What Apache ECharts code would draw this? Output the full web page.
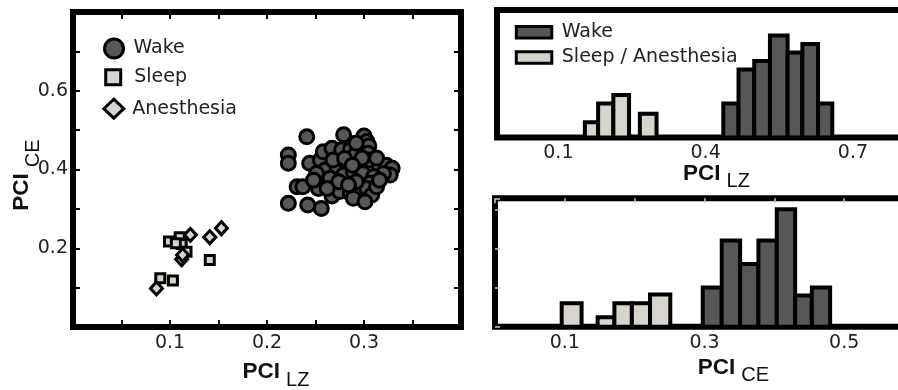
<!DOCTYPE html>
<html>
<head>
<meta charset="utf-8">
<script src="https://cdn.jsdelivr.net/npm/echarts@6/dist/echarts.min.js"></script>
<style>
  html, body { margin: 0; padding: 0; background: #fff; }
  #chart { width: 898px; height: 390px; }
</style>
</head>
<body>
<div id="chart"></div>
<script>
// PCI_LZ (x) and PCI_CE (y) for each recording
const wakeLZ = [0.241, 0.279, 0.300, 0.303, 0.305, 0.222, 0.222, 0.244, 0.255, 0.258,
                0.267, 0.277, 0.286, 0.292, 0.304, 0.260, 0.272, 0.282, 0.296, 0.306,
                0.316, 0.323, 0.329, 0.327, 0.320, 0.251, 0.265, 0.279, 0.289, 0.299,
                0.310, 0.306, 0.231, 0.237, 0.253, 0.267, 0.275, 0.286, 0.296, 0.303,
                0.308, 0.222, 0.242, 0.256, 0.289, 0.301, 0.274, 0.292, 0.313, 0.284,
                0.268, 0.292, 0.280, 0.262, 0.316, 0.298, 0.248, 0.288, 0.313];
const wakeCE = [0.483, 0.488, 0.485, 0.471, 0.460, 0.437, 0.416, 0.416, 0.424, 0.445,
                0.454, 0.450, 0.450, 0.441, 0.441, 0.399, 0.407, 0.416, 0.416, 0.424,
                0.407, 0.411, 0.403, 0.386, 0.390, 0.390, 0.378, 0.386, 0.394, 0.390,
                0.382, 0.365, 0.356, 0.356, 0.352, 0.333, 0.344, 0.340, 0.344, 0.352,
                0.335, 0.314, 0.310, 0.301, 0.327, 0.318, 0.369, 0.369, 0.356, 0.361,
                0.424, 0.467, 0.428, 0.352, 0.373, 0.429, 0.373, 0.411, 0.429];
const sleepLZ = [0.099, 0.110, 0.112, 0.106, 0.117, 0.141, 0.090, 0.103];
const sleepCE = [0.217, 0.228, 0.211, 0.213, 0.191, 0.170, 0.124, 0.118];
const anesLZ = [0.121, 0.112, 0.113, 0.141, 0.153, 0.086];
const anesCE = [0.234, 0.172, 0.183, 0.228, 0.251, 0.098];

// Histogram of PCI_LZ: bin edges and counts
const lzWakeLo = [0.436, 0.467, 0.499, 0.531, 0.567, 0.597, 0.629];
const lzWakeHi = [0.467, 0.499, 0.531, 0.567, 0.597, 0.629, 0.658];
const lzWakeCount = [4, 8, 9, 12, 10, 11, 4];
const lzSleepLo = [0.154, 0.181, 0.212, 0.266];
const lzSleepHi = [0.181, 0.212, 0.244, 0.300];
const lzSleepCount = [1.8, 4, 5, 2.8];

// Histogram of PCI_CE: bin edges and counts
const ceWakeLo = [0.2975, 0.3247, 0.3510, 0.3772, 0.4035, 0.4298, 0.4537];
const ceWakeHi = [0.3247, 0.3510, 0.3772, 0.4035, 0.4298, 0.4537, 0.4799];
const ceWakeCount = [5, 11, 8, 11, 15, 4, 5];
const ceSleepLo = [0.0955, 0.147, 0.171, 0.196, 0.222];
const ceSleepHi = [0.124, 0.171, 0.196, 0.222, 0.251];
const ceSleepCount = [3, 1.2, 3, 3, 4.1];

// Tick labels
const scatterXLabels = [0.1, 0.2, 0.3];
const scatterYLabels = [0.2, 0.4, 0.6];
const lzLabels = [0.1, 0.4, 0.7];
const ceLabels = [0.1, 0.3, 0.5];

const TITLE_FONT = "'Liberation Sans', Arial, Helvetica, sans-serif";
const FONT = "'DejaVu Sans', Verdana, sans-serif";
const DARK = '#575757';
const LIGHT = '#d7d4cb';

const zip = (a, b) => a.map((v, i) => [v, b[i]]);
const bins = (lo, hi, n) => lo.map((v, i) => [v, hi[i], n[i]]);

function renderBin(params, api) {
  const p0 = api.coord([api.value(0), 0]);
  const p1 = api.coord([api.value(1), api.value(2)]);
  return {
    type: 'rect',
    shape: { x: p0[0], y: p1[1], width: p1[0] - p0[0], height: p0[1] - p1[1] },
    style: { fill: api.visual('color'), stroke: '#000', lineWidth: 4 }
  };
}

// Axis title "PCI" with a subscript; lead/trail slide it along the axis
function axisTitle(main, sub, gap, lead, trail, lineH) {
  return {
    name: '{b|' + main + '}{s|' + sub + '}',
    nameLocation: 'middle',
    nameGap: gap,
    nameMoveOverlap: false,
    nameTextStyle: {
      rich: {
        b: { fontSize: 22.5, fontWeight: 'bold', fontFamily: TITLE_FONT, color: '#111',
             lineHeight: lineH, padding: [0, 0, 0, lead] },
        s: { fontSize: 20, fontFamily: TITLE_FONT, color: '#111', lineHeight: 20,
             verticalAlign: 'bottom', padding: [0, trail, 0, 6] }
      }
    }
  };
}

const tickLabelStyle = { fontSize: 19, fontFamily: FONT, color: '#222' };
const blackTicks = { show: true, inside: true, length: 7, lineStyle: { color: '#000', width: 2 } };
const greyTicks = { show: true, inside: true, length: 5, lineStyle: { color: '#c8c8c8', width: 1.5 } };
// Frame edges come from the grid border; axes keep to their own side
const noLine = { show: false, onZero: false };
const noSplit = { show: false };

const chart = echarts.init(document.getElementById('chart'), null, { renderer: 'canvas' });

const gridBase = { show: true, borderColor: '#000', borderWidth: 6, backgroundColor: '#fff',
                   containLabel: false, outerBoundsMode: 'none' };

function legendText(pad, lineH, size) {
  return Object.assign({}, tickLabelStyle, { fontSize: size, padding: [0, 0, 0, pad], lineHeight: lineH });
}

const option = {
  animation: false,
  backgroundColor: '#fff',
  grid: [
    Object.assign({ left: 73, top: 12, width: 388, height: 315 }, gridBase),
    Object.assign({ left: 497, top: 10, width: 405, height: 127.5 }, gridBase),
    Object.assign({ left: 495, top: 198.3, width: 419, height: 128.4 }, gridBase)
  ],
  xAxis: [
    Object.assign(axisTitle('PCI', 'LZ', 27, 18, 0, 36), {
      gridIndex: 0, type: 'value', position: 'bottom', min: 0, max: 0.4, interval: 0.05,
      axisLine: noLine, splitLine: noSplit, axisTick: blackTicks,
      axisLabel: Object.assign({ margin: 7, customValues: scatterXLabels }, tickLabelStyle)
    }),
    { gridIndex: 0, type: 'value', position: 'top', min: 0, max: 0.4, interval: 0.05,
      axisLine: noLine, splitLine: noSplit, axisTick: blackTicks, axisLabel: { show: false } },
    Object.assign(axisTitle('PCI', 'LZ', 18, 34, 0, 36), {
      gridIndex: 1, type: 'value', position: 'bottom', min: -0.025, max: 0.8,
      axisLine: noLine, splitLine: noSplit, axisTick: { show: false },
      axisLabel: Object.assign({ margin: 6, customValues: lzLabels }, tickLabelStyle)
    }),
    Object.assign(axisTitle('PCI', 'CE', 23, 58, 0, 36), {
      gridIndex: 2, type: 'value', position: 'bottom', min: 0, max: 0.6, interval: 0.1,
      axisLine: noLine, splitLine: noSplit, axisTick: { show: false },
      axisLabel: Object.assign({ margin: 7, customValues: ceLabels }, tickLabelStyle)
    }),
    { gridIndex: 2, type: 'value', position: 'top', min: 0, max: 0.6, interval: 0.1,
      axisLine: noLine, splitLine: noSplit, axisTick: greyTicks, axisLabel: { show: false } }
  ],
  yAxis: [
    Object.assign(axisTitle('PCI', 'CE', 29.5, 0, 11, 44), {
      gridIndex: 0, type: 'value', position: 'left', min: 0, max: 0.8, interval: 0.1,
      axisLine: noLine, splitLine: noSplit, axisTick: blackTicks,
      axisLabel: Object.assign({ margin: 5, customValues: scatterYLabels }, tickLabelStyle)
    }),
    { gridIndex: 0, type: 'value', position: 'right', min: 0, max: 0.8, interval: 0.1,
      axisLine: noLine, splitLine: noSplit, axisTick: blackTicks, axisLabel: { show: false } },
    { gridIndex: 1, type: 'value', min: 0, max: 15, interval: 5,
      axisLine: noLine, splitLine: noSplit, axisTick: { show: false }, axisLabel: { show: false } },
    { gridIndex: 2, type: 'value', position: 'left', min: 0, max: 16.4, interval: 5,
      axisLine: noLine, splitLine: noSplit, axisTick: greyTicks, axisLabel: { show: false } }
  ],
  legend: [
    { data: [{ name: 'Wake', icon: 'circle', itemStyle: { color: DARK, borderColor: '#000', borderWidth: 3 } }],
      left: 103, top: 37.5, padding: 0, itemWidth: 19, itemHeight: 19, selectedMode: false,
      textStyle: legendText(5, 19, 19) },
    { data: [{ name: 'Sleep', icon: 'rect', itemStyle: { color: LIGHT, borderColor: '#000', borderWidth: 3 } }],
      left: 104.2, top: 67.8, padding: 0, itemWidth: 15, itemHeight: 15, selectedMode: false,
      textStyle: legendText(8.5, 15, 19) },
    { data: [{ name: 'Anesthesia', icon: 'diamond', itemStyle: { color: LIGHT, borderColor: '#000', borderWidth: 3 } }],
      left: 102.3, top: 97.7, padding: 0, itemWidth: 20, itemHeight: 19, selectedMode: false,
      textStyle: legendText(3.5, 19, 19) },
    { data: [
        { name: 'Wake', icon: 'rect', itemStyle: { color: DARK, borderColor: '#000', borderWidth: 3 } },
        { name: 'Sleep / Anesthesia', icon: 'rect', itemStyle: { color: LIGHT, borderColor: '#000', borderWidth: 3 } }
      ],
      orient: 'vertical', left: 514.8, top: 22.2, padding: 0, itemWidth: 35.5, itemHeight: 11.5, itemGap: 5.3,
      selectedMode: false, textStyle: legendText(5, 20, 19) }
  ],
  series: [
    { name: 'Wake', type: 'scatter', xAxisIndex: 0, yAxisIndex: 0, symbol: 'circle', symbolSize: 14,
      itemStyle: { color: DARK, borderColor: '#000', borderWidth: 3, opacity: 1 },
      data: zip(wakeLZ, wakeCE) },
    { name: 'Sleep', type: 'scatter', xAxisIndex: 0, yAxisIndex: 0, symbol: 'rect', symbolSize: 9,
      itemStyle: { color: LIGHT, borderColor: '#000', borderWidth: 3, opacity: 1 },
      data: zip(sleepLZ, sleepCE) },
    { name: 'Anesthesia', type: 'scatter', xAxisIndex: 0, yAxisIndex: 0, symbol: 'diamond', symbolSize: [12, 13],
      itemStyle: { color: LIGHT, borderColor: '#000', borderWidth: 3, opacity: 1 },
      data: zip(anesLZ, anesCE) },
    { name: 'Wake', type: 'custom', xAxisIndex: 2, yAxisIndex: 2, renderItem: renderBin,
      itemStyle: { color: DARK }, encode: { x: [0, 1], y: 2 },
      data: bins(lzWakeLo, lzWakeHi, lzWakeCount) },
    { name: 'Sleep / Anesthesia', type: 'custom', xAxisIndex: 2, yAxisIndex: 2, renderItem: renderBin,
      itemStyle: { color: LIGHT }, encode: { x: [0, 1], y: 2 },
      data: bins(lzSleepLo, lzSleepHi, lzSleepCount) },
    { name: 'Wake', type: 'custom', xAxisIndex: 3, yAxisIndex: 3, renderItem: renderBin,
      itemStyle: { color: DARK }, encode: { x: [0, 1], y: 2 },
      data: bins(ceWakeLo, ceWakeHi, ceWakeCount) },
    { name: 'Sleep / Anesthesia', type: 'custom', xAxisIndex: 3, yAxisIndex: 3, renderItem: renderBin,
      itemStyle: { color: LIGHT }, encode: { x: [0, 1], y: 2 },
      data: bins(ceSleepLo, ceSleepHi, ceSleepCount) }
  ]
};

chart.setOption(option);
</script>
</body>
</html>
